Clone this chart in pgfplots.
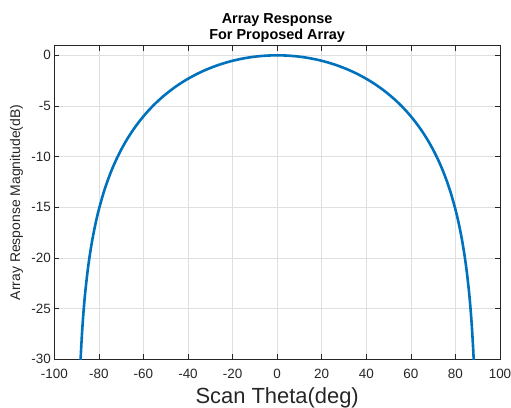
\documentclass[border=0pt]{standalone}
\usepackage{fontspec}
\setmainfont{Liberation Sans}
\usepackage{pgfplots}
\pgfplotsset{compat=1.18}
\definecolor{mblue}{HTML}{0072BD}
\definecolor{axgray}{HTML}{262626}
\definecolor{gridgray}{HTML}{DFDFDF}
\begin{document}
\begin{tikzpicture}
\begin{axis}[
  scale only axis, width=445.7bp, height=313.6bp,
  xmin=-100, xmax=100, ymin=-30, ymax=0.95,
  xtick={-100,-80,...,100}, ytick={-30,-25,...,0},
  grid=major, major grid style={gridgray, line width=0.6bp},
  axis line style={axgray, line width=0.7bp},
  tick align=inside, major tick length=5bp, tick style={axgray, line width=0.7bp},
  /pgf/number format/assume math mode=true,
  ticklabel style={font=\fontsize{13.5}{15}\selectfont, text=axgray},
  xticklabel style={yshift=-6bp},
  title={Array Response\\For Proposed Array},
  title style={align=center, font=\bfseries\fontsize{14.5}{16.5}\selectfont, yshift=-6.5bp},
  xlabel={Scan Theta(deg)},
  xlabel style={font=\fontsize{22}{24}\selectfont, text=axgray, yshift=-2bp},
  ylabel={Array Response Magnitude(dB)},
  ylabel style={font=\fontsize{14}{16}\selectfont, text=axgray, yshift=1.6bp},
]
\addplot[mblue, line width=2.6bp, smooth] coordinates {
(-88.2,-30.058) (-88,-29.1437) (-87.5,-27.2065) (-87,-25.6240) (-86.5,-24.2864)
(-86,-23.1283) (-85,-21.1940) (-84,-19.6153) (-83,-18.2822) (-82,-17.1289)
(-81,-16.1133) (-80,-15.2066) (-78,-13.6425) (-76,-12.3265) (-74,-11.1933)
(-72,-10.2004) (-70,-9.3190) (-68,-8.5285) (-66,-7.8137) (-64,-7.1631)
(-62,-6.5678) (-60,-6.0206) (-58,-5.5158) (-56,-5.0488) (-54,-4.6156)
(-52,-4.2132) (-50,-3.8386) (-48,-3.4898) (-46,-3.1646) (-44,-2.8613)
(-42,-2.5785) (-40,-2.3149) (-38,-2.0694) (-36,-1.8408) (-34,-1.6285)
(-32,-1.4316) (-30,-1.2494) (-28,-1.0813) (-26,-0.9268) (-24,-0.7854)
(-22,-0.6567) (-20,-0.5403) (-18,-0.4359) (-16,-0.3432) (-14,-0.2619)
(-12,-0.1919) (-10,-0.1330) (-8,-0.0850) (-6,-0.0477) (-4,-0.0212)
(-2,-0.0053) (0,0)
(2,-0.0053) (4,-0.0212) (6,-0.0477) (8,-0.0850) (10,-0.1330)
(12,-0.1919) (14,-0.2619) (16,-0.3432) (18,-0.4359) (20,-0.5403)
(22,-0.6567) (24,-0.7854) (26,-0.9268) (28,-1.0813) (30,-1.2494)
(32,-1.4316) (34,-1.6285) (36,-1.8408) (38,-2.0694) (40,-2.3149)
(42,-2.5785) (44,-2.8613) (46,-3.1646) (48,-3.4898) (50,-3.8386)
(52,-4.2132) (54,-4.6156) (56,-5.0488) (58,-5.5158) (60,-6.0206)
(62,-6.5678) (64,-7.1631) (66,-7.8137) (68,-8.5285) (70,-9.3190)
(72,-10.2004) (74,-11.1933) (76,-12.3265) (78,-13.6425) (80,-15.2066)
(81,-16.1133) (82,-17.1289) (83,-18.2822) (84,-19.6153) (85,-21.1940)
(86,-23.1283) (86.5,-24.2864) (87,-25.6240) (87.5,-27.2065) (88,-29.1437)
(88.2,-30.058)
};
\end{axis}
\pgfresetboundingbox
\useasboundingbox ([shift={(-54.3bp,-48.7bp)}]current axis.south west) rectangle ([shift={(11bp,45.7bp)}]current axis.north east);
\end{tikzpicture}
\end{document}
